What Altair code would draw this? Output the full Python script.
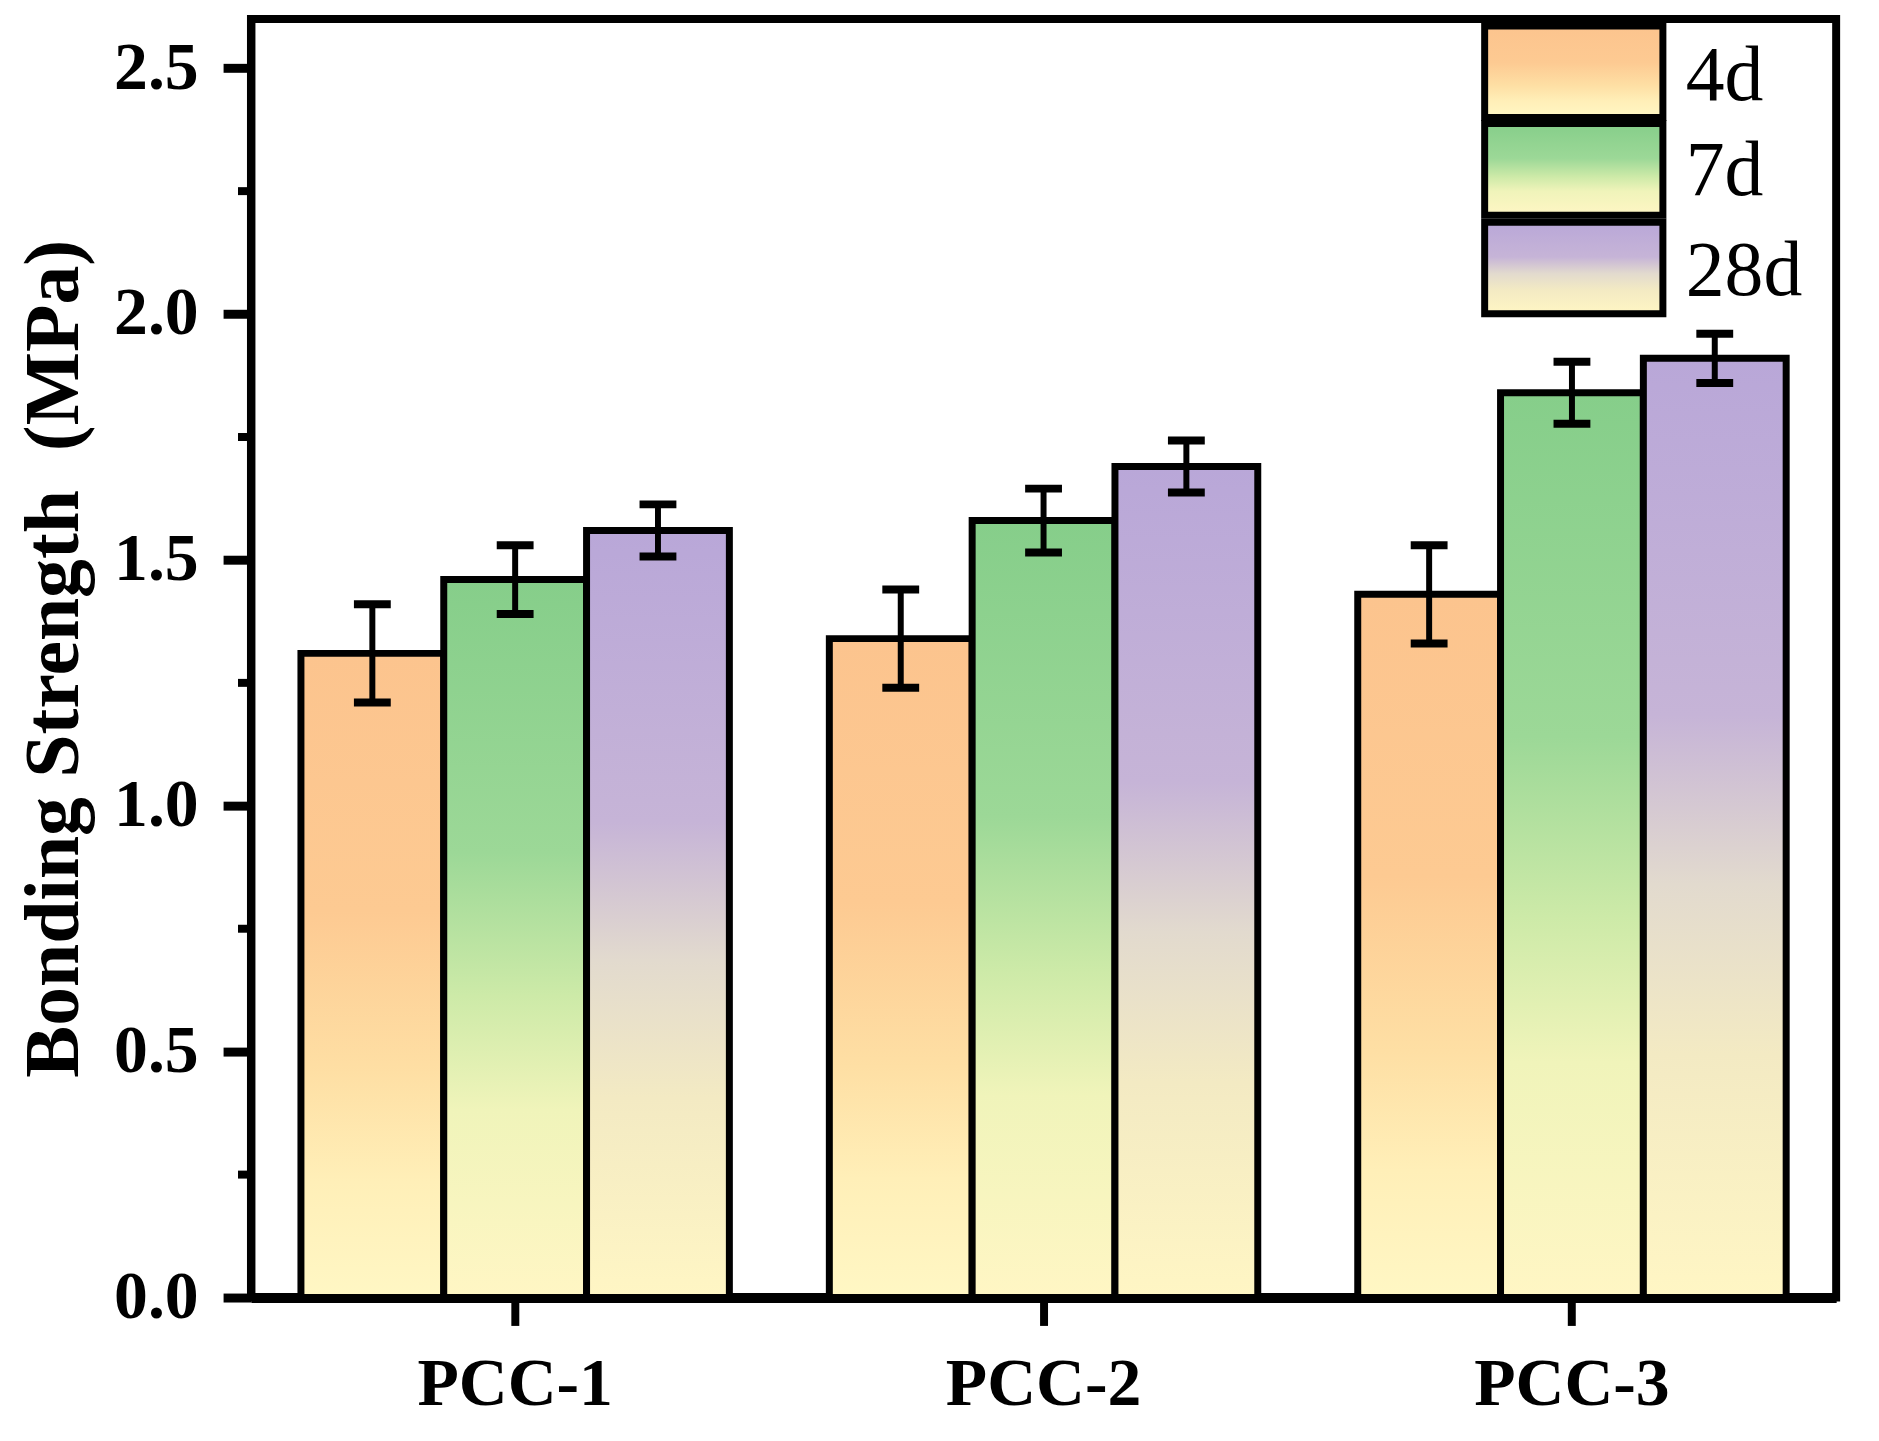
import altair as alt
import pandas as pd

categories = ["PCC-1", "PCC-2", "PCC-3"]
series = ["4d", "7d", "28d"]
values_4d = [1.31, 1.34, 1.43]
values_7d = [1.46, 1.58, 1.84]
values_28d = [1.56, 1.69, 1.91]
err_4d = [0.10, 0.10, 0.10]
err_7d = [0.07, 0.065, 0.063]
err_28d = [0.053, 0.053, 0.05]
y_major = [0.0, 0.5, 1.0, 1.5, 2.0, 2.5]
y_minor = [0.25, 0.75, 1.25, 1.75, 2.25]

rows = []
for s, vals, errs in [("4d", values_4d, err_4d), ("7d", values_7d, err_7d), ("28d", values_28d, err_28d)]:
    for c, v, e in zip(categories, vals, errs):
        rows.append({"category": c, "series": s, "value": v, "low": v - e, "high": v + e})
df = pd.DataFrame(rows)
minor_df = pd.DataFrame({"v": y_minor})

FONT = "Liberation Serif"

def grad(stops):
    return alt.LinearGradient(
        gradient="linear",
        stops=[alt.GradientStop(offset=o, color=c) for o, c in stops],
        x1=0, x2=0, y1=0, y2=1,
    )

gradients = {
    "4d": grad([(0, "#FCC48E"), (0.4, "#FDCA92"), (0.65, "#FEDFA4"), (0.82, "#FFEFB8"), (1, "#FFF7C4")]),
    "7d": grad([(0, "#86CE8A"), (0.38, "#9CD897"), (0.58, "#CDEAA8"), (0.74, "#F0F4BA"), (1, "#FFF6C4")]),
    "28d": grad([(0, "#B9A7D8"), (0.38, "#C6B4D7"), (0.56, "#E2DACE"), (0.74, "#F3EAC3"), (1, "#FFF6C4")]),
}

x_enc = alt.X(
    "category:N",
    sort=categories,
    scale=alt.Scale(domain=categories, paddingInner=0, paddingOuter=0),
    axis=alt.Axis(
        title=None, labelAngle=0, labelFont=FONT, labelFontSize=68, labelFontWeight="bold",
        labelColor="black", labelLimit=1000, tickSize=28, tickWidth=8, tickColor="black",
        domainColor="black", domainWidth=10, labelPadding=25, grid=False,
    ),
)
xoff_enc = alt.XOffset(
    "series:N", sort=series,
    scale=alt.Scale(domain=series, paddingInner=0, paddingOuter=0.35),
)
y_scale = alt.Scale(domain=[0, 2.6], nice=False, zero=True)
y_axis = alt.Axis(
    title="Bonding Strength\u00a0\u00a0(MPa)", values=y_major, format=".1f",
    labelFont=FONT, labelFontSize=68, labelFontWeight="bold", labelColor="black",
    labelLimit=1000,
    titleFont=FONT, titleFontSize=78, titleFontWeight="bold", titleColor="black",
    titlePadding=20, tickSize=28, tickWidth=9, tickColor="black",
    domainColor="black", domainWidth=8, labelPadding=25, grid=False,
)

layers = []
for s in series:
    layers.append(
        alt.Chart(df).transform_filter(alt.datum.series == s)
        .mark_bar(fill=gradients[s], stroke="black", strokeWidth=7, strokeJoin="miter")
        .encode(
            x=x_enc, xOffset=xoff_enc,
            y=alt.Y("value:Q", scale=y_scale, axis=y_axis),
        )
    )

err_rule = alt.Chart(df).mark_rule(color="black", strokeWidth=6, opacity=1).encode(
    x=x_enc, xOffset=xoff_enc,
    y=alt.Y("low:Q", scale=y_scale, axis=y_axis), y2="high:Q",
)
cap_low = alt.Chart(df).mark_tick(color="black", size=37, thickness=8, orient="horizontal", opacity=1).encode(
    x=x_enc, xOffset=xoff_enc, y=alt.Y("low:Q", scale=y_scale, axis=y_axis),
)
cap_high = alt.Chart(df).mark_tick(color="black", size=37, thickness=8, orient="horizontal", opacity=1).encode(
    x=x_enc, xOffset=xoff_enc, y=alt.Y("high:Q", scale=y_scale, axis=y_axis),
)
minor_ticks = alt.Chart(minor_df).mark_rule(color="black", strokeWidth=8).encode(
    y=alt.Y("v:Q", scale=y_scale, axis=y_axis),
    x=alt.value(-13), x2=alt.value(0),
)

# legend (drawn manually with gradient swatches)
one = pd.DataFrame({"k": [0]})
leg_boxes = [(7, 99), (105, 197), (204, 296)]
leg_base = [81, 177, 277]
legend_layers = []
for s, (y0, y1), yb in zip(series, leg_boxes, leg_base):
    legend_layers.append(
        alt.Chart(one).mark_rect(fill=gradients[s], stroke="black", strokeWidth=7).encode(
            x=alt.value(1239), x2=alt.value(1418), y=alt.value(y0), y2=alt.value(y1)
        )
    )
    legend_layers.append(
        alt.Chart(one).mark_text(
            text=s, font=FONT, fontSize=78, fontWeight="normal", color="black",
            align="left", baseline="alphabetic",
        ).encode(x=alt.value(1441), y=alt.value(yb))
    )

chart = alt.layer(*layers, err_rule, cap_low, cap_high, minor_ticks, *legend_layers).properties(
    width=1592, height=1284,
    padding={"left": 244, "top": 8, "right": 35, "bottom": 141},
    autosize=alt.AutoSizeParams(type="none"),
    background="white",
).configure_view(stroke="black", strokeWidth=8).configure_axis(labelFlush=False)

chart.save("out.html", embed_options={"renderer": "svg", "actions": False})
